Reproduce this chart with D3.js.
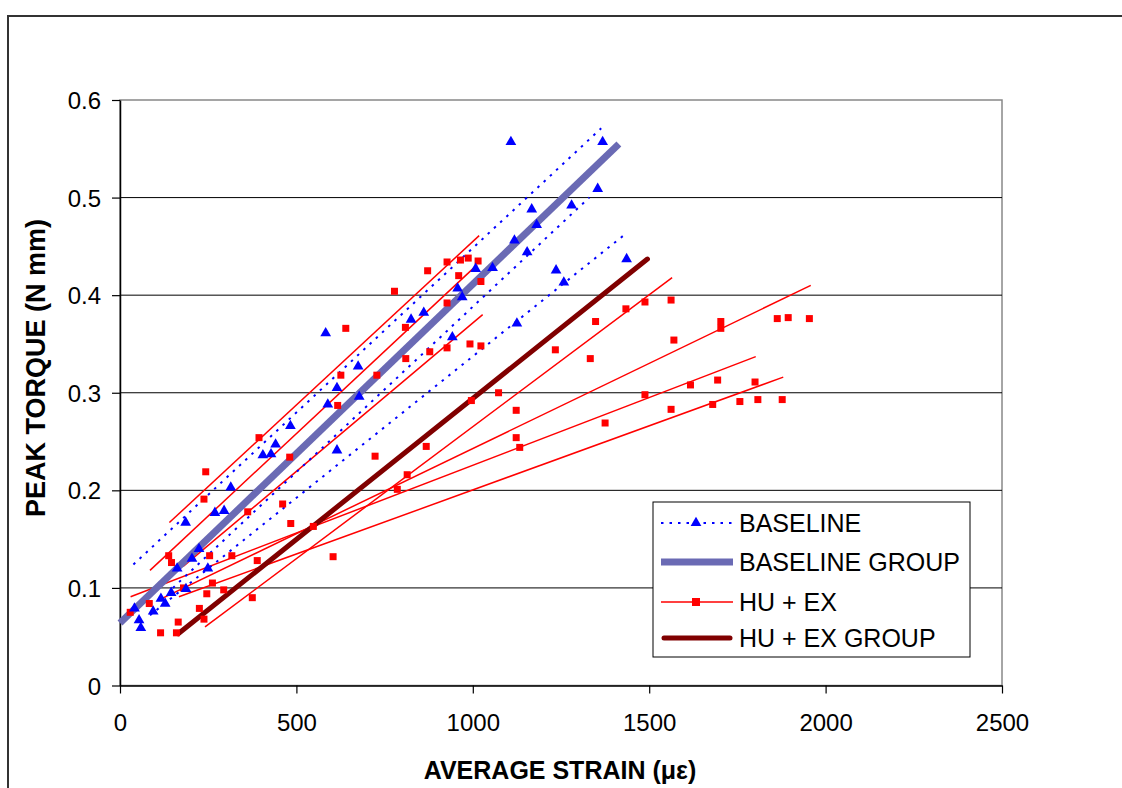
<!DOCTYPE html>
<html lang="en">
<head>
<meta charset="UTF-8">
<title>Peak torque vs average strain</title>
<script src="https://d3js.org/d3.v7.min.js"></script>
<style>
  body { margin: 0; background: #fff; }
  text { font-family: "Liberation Sans", Arial, sans-serif; fill: #000; }
  .tick-label { font-size: 24px; }
  .axis-title { font-size: 25px; font-weight: bold; }
  .y-title { font-size: 27px; }
  .legend-label { font-size: 25px; }
</style>
</head>
<body>
<script>
  // ---- data ----
  const xTicks = [0, 500, 1000, 1500, 2000, 2500];
  const yTicks = [0, 0.1, 0.2, 0.3, 0.4, 0.5, 0.6];

  // BASELINE specimens: [strain, torque]
  const baselinePoints = [
    [41, 0.079], [54, 0.067], [59, 0.059], [94, 0.076], [116, 0.089], [128, 0.084],
    [145, 0.095], [162, 0.120], [187, 0.099], [186, 0.167], [204, 0.130], [224, 0.140],
    [249, 0.120], [269, 0.177], [295, 0.179], [314, 0.203], [405, 0.236], [428, 0.237],
    [441, 0.247], [483, 0.266], [583, 0.361], [589, 0.288], [615, 0.305], [615, 0.241],
    [675, 0.327], [678, 0.296], [825, 0.375], [861, 0.382], [942, 0.357], [957, 0.407],
    [970, 0.398], [1008, 0.427], [1056, 0.428], [1108, 0.557], [1118, 0.456], [1125, 0.371],
    [1154, 0.444], [1167, 0.488], [1181, 0.472], [1236, 0.4255], [1258, 0.413], [1280, 0.492],
    [1354, 0.509], [1368, 0.557], [1436, 0.437]
  ];

  // HU + EX specimens: [strain, torque]
  const huexPoints = [
    [29, 0.075], [83, 0.084], [115, 0.054], [138, 0.133], [146, 0.126], [160, 0.054],
    [165, 0.065], [180, 0.100], [225, 0.079], [238, 0.068], [238, 0.191], [243, 0.219],
    [246, 0.094], [254, 0.133], [262, 0.105], [294, 0.098], [317, 0.133], [362, 0.178],
    [375, 0.090], [389, 0.128], [394, 0.254], [461, 0.186], [481, 0.234], [484, 0.166],
    [548, 0.163], [604, 0.132], [617, 0.287], [626, 0.318], [640, 0.366], [723, 0.235],
    [728, 0.318], [778, 0.404], [786, 0.201], [809, 0.367], [810, 0.335], [814, 0.216],
    [868, 0.245], [872, 0.425], [878, 0.342], [927, 0.434], [927, 0.392], [927, 0.346],
    [960, 0.420], [965, 0.436], [987, 0.438], [992, 0.350], [996, 0.292], [1015, 0.435],
    [1023, 0.414], [1023, 0.348], [1073, 0.300], [1123, 0.282], [1123, 0.254], [1133, 0.244],
    [1234, 0.344], [1333, 0.335], [1348, 0.373], [1375, 0.269], [1434, 0.386], [1488, 0.393],
    [1488, 0.298], [1562, 0.395], [1562, 0.283], [1570, 0.354], [1617, 0.308], [1680, 0.288],
    [1694, 0.313], [1703, 0.373], [1703, 0.366], [1757, 0.291], [1800, 0.311], [1808, 0.293],
    [1863, 0.376], [1877, 0.293], [1894, 0.377], [1954, 0.376]
  ];

  // linear fits per specimen: [x0, y0, x1, y1]
  const baselineFits = [
    [38, 0.124, 1364, 0.571],
    [90, 0.098, 1300, 0.515],
    [150, 0.100, 1330, 0.500],
    [85, 0.072, 1437, 0.464]
  ];
  const huexFits = [
    [140, 0.167, 1018, 0.461],
    [85, 0.118, 1012, 0.431],
    [179, 0.122, 1028, 0.380],
    [241, 0.060, 1565, 0.418],
    [118, 0.089, 1958, 0.410],
    [30, 0.091, 1802, 0.337],
    [167, 0.091, 1880, 0.316]
  ];

  // group fits
  const baselineGroup = [0, 0.064, 1414, 0.555];
  const huexGroup = [165, 0.053, 1495, 0.437];

  const legendItems = ["BASELINE", "BASELINE GROUP", "HU + EX", "HU + EX GROUP"];

  // ---- layout ----
  const width = 1122, height = 788;
  const plot = { left: 120, right: 1002, top: 100, bottom: 685.5 };

  const svg = d3.select("body").append("svg")
    .attr("width", width)
    .attr("height", height);

  // outer chart frame (runs off right/bottom)
  svg.append("rect")
    .attr("x", 8).attr("y", 16)
    .attr("width", width).attr("height", height)
    .attr("fill", "none")
    .attr("stroke", "#333")
    .attr("stroke-width", 2);

  const x = d3.scaleLinear().domain([0, 2500]).range([plot.left, plot.right]);
  const y = d3.scaleLinear().domain([0, 0.6]).range([plot.bottom, plot.top]);

  // plot area border
  svg.append("rect")
    .attr("x", plot.left).attr("y", plot.top)
    .attr("width", plot.right - plot.left)
    .attr("height", plot.bottom - plot.top)
    .attr("fill", "none")
    .attr("stroke", "#888")
    .attr("stroke-width", 1.5);

  // gridlines
  svg.append("g")
    .selectAll("line")
    .data(yTicks.filter(d => d > 0 && d < 0.6))
    .join("line")
    .attr("x1", plot.left).attr("x2", plot.right)
    .attr("y1", d => y(d)).attr("y2", d => y(d))
    .attr("stroke", "#000")
    .attr("stroke-width", 1);

  // axes
  const yAxis = svg.append("g")
    .attr("transform", `translate(${plot.left},0)`)
    .call(d3.axisLeft(y).tickValues(yTicks).tickSize(8).tickSizeOuter(0)
      .tickFormat(d => d === 0 ? "0" : d3.format(".1f")(d)));
  yAxis.select(".domain").attr("stroke", "#000").attr("stroke-width", 1.5);
  yAxis.selectAll(".tick line").attr("stroke", "#000").attr("stroke-width", 1.2);
  yAxis.selectAll(".tick text").attr("class", "tick-label").attr("x", -19).attr("dy", "0.36em");

  const xAxis = svg.append("g")
    .attr("transform", `translate(0,${plot.bottom})`)
    .call(d3.axisBottom(x).tickValues(xTicks).tickSize(8).tickSizeOuter(0)
      .tickFormat(d3.format("d")));
  xAxis.select(".domain").attr("stroke", "#000").attr("stroke-width", 1.5);
  xAxis.selectAll(".tick line").attr("stroke", "#000").attr("stroke-width", 1.2);
  xAxis.selectAll(".tick text").attr("class", "tick-label").attr("y", 28).attr("dy", "0.71em");

  // axis titles
  svg.append("text")
    .attr("class", "axis-title")
    .attr("x", 560).attr("y", 779)
    .attr("text-anchor", "middle")
    .text("AVERAGE STRAIN (\u03bc\u03b5)");

  svg.append("text")
    .attr("class", "axis-title y-title")
    .attr("transform", "translate(45,368) rotate(-90)")
    .attr("text-anchor", "middle")
    .text("PEAK TORQUE (N mm)");

  const plotArea = svg.append("g");

  // specimen fit lines
  plotArea.selectAll(".huex-fit")
    .data(huexFits)
    .join("line")
    .attr("class", "huex-fit")
    .attr("x1", d => x(d[0])).attr("y1", d => y(d[1]))
    .attr("x2", d => x(d[2])).attr("y2", d => y(d[3]))
    .attr("stroke", "#ff0000")
    .attr("stroke-width", 1.5);

  plotArea.selectAll(".base-fit")
    .data(baselineFits)
    .join("line")
    .attr("class", "base-fit")
    .attr("x1", d => x(d[0])).attr("y1", d => y(d[1]))
    .attr("x2", d => x(d[2])).attr("y2", d => y(d[3]))
    .attr("stroke", "#0000ff")
    .attr("stroke-width", 2)
    .attr("stroke-dasharray", "2.5,6");

  // group lines
  plotArea.append("line")
    .attr("x1", x(baselineGroup[0])).attr("y1", y(baselineGroup[1]))
    .attr("x2", x(baselineGroup[2])).attr("y2", y(baselineGroup[3]))
    .attr("stroke", "#6a6ab4")
    .attr("stroke-width", 7);

  plotArea.append("line")
    .attr("x1", x(huexGroup[0])).attr("y1", y(huexGroup[1]))
    .attr("x2", x(huexGroup[2])).attr("y2", y(huexGroup[3]))
    .attr("stroke", "#800000")
    .attr("stroke-width", 5)
    .attr("stroke-linecap", "round");

  // markers
  const tri = d3.symbol().type(d3.symbolTriangle).size(50);

  plotArea.selectAll(".huex-pt")
    .data(huexPoints)
    .join("rect")
    .attr("class", "huex-pt")
    .attr("x", d => x(d[0]) - 3.5).attr("y", d => y(d[1]) - 3.5)
    .attr("width", 7).attr("height", 7)
    .attr("fill", "#ff0000");

  plotArea.selectAll(".base-pt")
    .data(baselinePoints)
    .join("path")
    .attr("class", "base-pt")
    .attr("d", tri)
    .attr("transform", d => `translate(${x(d[0])},${y(d[1])})`)
    .attr("fill", "#0000ff");

  // legend
  const legend = svg.append("g").attr("transform", "translate(653,502)");
  legend.append("rect")
    .attr("width", 317).attr("height", 155)
    .attr("fill", "#fff")
    .attr("stroke", "#000")
    .attr("stroke-width", 1);

  const rowY = [21, 60, 100, 136];
  const lx0 = 8, lx1 = 80, lmid = 43;

  legend.append("line")
    .attr("x1", lx0).attr("x2", lx1).attr("y1", rowY[0]).attr("y2", rowY[0])
    .attr("stroke", "#0000ff").attr("stroke-width", 2).attr("stroke-dasharray", "2.5,6");
  legend.append("path").attr("d", tri)
    .attr("transform", `translate(${lmid},${rowY[0]})`).attr("fill", "#0000ff");

  legend.append("line")
    .attr("x1", lx0).attr("x2", lx1).attr("y1", rowY[1]).attr("y2", rowY[1])
    .attr("stroke", "#6a6ab4").attr("stroke-width", 7);

  legend.append("line")
    .attr("x1", lx0).attr("x2", lx1).attr("y1", rowY[2]).attr("y2", rowY[2])
    .attr("stroke", "#ff0000").attr("stroke-width", 1.5);
  legend.append("rect")
    .attr("x", lmid - 4).attr("y", rowY[2] - 4).attr("width", 8).attr("height", 8)
    .attr("fill", "#ff0000");

  legend.append("line")
    .attr("x1", lx0 + 3).attr("x2", lx1 - 3).attr("y1", rowY[3]).attr("y2", rowY[3])
    .attr("stroke", "#800000").attr("stroke-width", 5).attr("stroke-linecap", "round");

  legend.selectAll(".legend-label")
    .data(legendItems)
    .join("text")
    .attr("class", "legend-label")
    .attr("x", 86)
    .attr("y", (d, i) => rowY[i])
    .attr("dy", "0.36em")
    .text(d => d);
</script>
</body>
</html>
